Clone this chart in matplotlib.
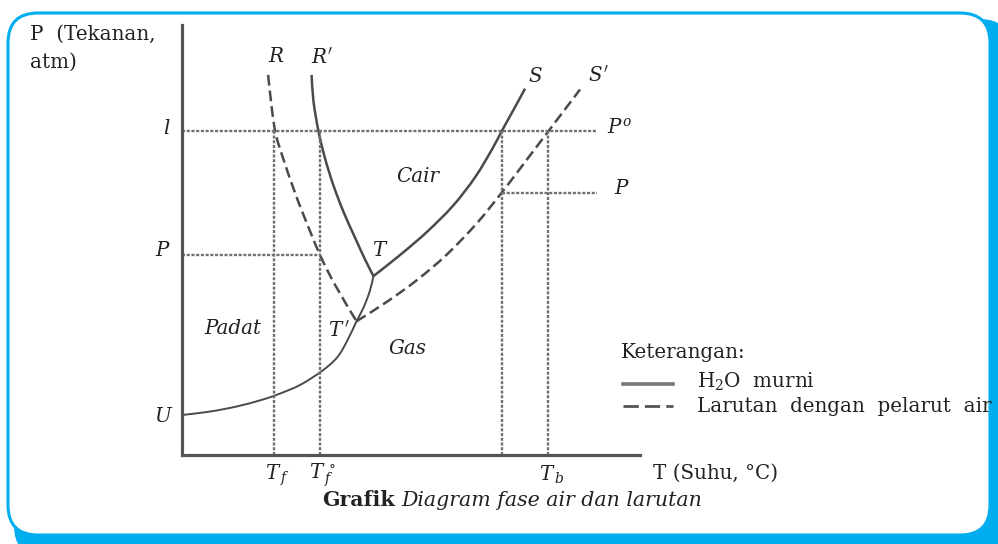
import matplotlib
matplotlib.use("Agg")
import matplotlib.pyplot as plt
import numpy as np
from matplotlib.patches import FancyBboxPatch, PathPatch
from matplotlib.path import Path

plt.rcParams['font.family'] = ['DejaVu Serif']
plt.rcParams['mathtext.fontset'] = 'dejavuserif'

# ---- data (T on 0-100 scale, P on 0-100 scale) ----
p_std = 75.3      # l / P° level
p_left = 46.6     # P (left)
p_right = 60.9    # P (right)
t_f = 20.1
t_f0 = 30.1
t_b0 = 69.8
t_b = 80.0
t_line_end = 90.6

melt_pure_T = [28.3, 28.7, 29.8, 31.2, 33.0, 35.2, 37.8, 40.0, 41.8]
melt_pure_P = [88.4, 82.3, 75.3, 69.1, 62.9, 56.7, 50.5, 45.4, 41.6]

melt_sol_T = [18.8, 19.6, 20.5, 22.3, 24.3, 26.5, 30.1, 33.4, 38.1]
melt_sol_P = [88.4, 80.7, 74.5, 68.3, 62.1, 55.9, 46.6, 39.6, 31.1]

subl_T = [0.0, 6.1, 12.0, 17.0, 20.7, 25.8, 30.5, 33.8, 36.0, 38.1, 39.6, 41.0, 41.8]
subl_P = [9.3, 10.1, 11.3, 12.7, 14.0, 16.3, 19.5, 22.6, 26.4, 31.1, 34.2, 38.1, 41.6]

boil_pure_T = [41.8, 47.6, 53.5, 59.2, 64.0, 67.7, 69.8, 72.5, 74.9]
boil_pure_P = [41.6, 46.5, 51.9, 58.0, 64.6, 71.1, 75.3, 80.5, 85.2]

boil_sol_T = [38.1, 44.7, 51.2, 57.8, 64.3, 69.8, 75.3, 80.0, 86.9]
boil_sol_P = [31.1, 35.6, 40.6, 46.6, 53.8, 61.0, 68.7, 75.3, 85.0]

tick_labels = [r'$T_{\,f}$', r'$T_{\,f}^{\,\circ}$', r'$T_{\,b}$']
tick_pos = [t_f, t_f0, t_b]
legend_labels = [r'H$_2$O  murni', 'Larutan  dengan  pelarut  air']


def smooth_path(xs, ys):
    """Cubic Bezier path passing through the given points (Catmull-Rom)."""
    p = np.column_stack([xs, ys]).astype(float)
    ext = np.vstack([p[0], p, p[-1]])
    verts = [p[0]]
    codes = [Path.MOVETO]
    for i in range(len(p) - 1):
        a, b, c, d = ext[i], ext[i + 1], ext[i + 2], ext[i + 3]
        verts += [b + (c - a) / 6.0, c - (d - b) / 6.0, c]
        codes += [Path.CURVE4] * 3
    return Path(verts, codes)


# ---- figure ----
W, H = 998, 544
fig = plt.figure(figsize=(W / 100, H / 100), dpi=100)
fig.patch.set_facecolor('white')

bg = fig.add_axes([0, 0, 1, 1], zorder=0)
bg.set_xlim(0, W)
bg.set_ylim(H, 0)
bg.axis('off')

cyan = '#00AEEF'
bg.add_patch(FancyBboxPatch((44, 49), 936, 477,
                            boxstyle='round,pad=30,rounding_size=30',
                            facecolor=cyan, edgecolor='none'))
bg.add_patch(FancyBboxPatch((38, 43), 922, 462,
                            boxstyle='round,pad=30,rounding_size=30',
                            facecolor='white', edgecolor=cyan, linewidth=2.2))

ax = fig.add_axes([182 / W, (H - 455) / H, 458 / W, 430 / H], zorder=1)
ax.patch.set_alpha(0)
ax.set_xlim(0, 100)
ax.set_ylim(0, 100)
for s in ['top', 'right']:
    ax.spines[s].set_visible(False)
for s in ['left', 'bottom']:
    ax.spines[s].set_linewidth(2.3)
    ax.spines[s].set_color('#555555')
    ax.spines[s].set_capstyle('projecting')
ax.set_xticks([])
ax.set_yticks([])

line_c = '#4a4a4a'
dot_c = '#707070'
dot_ls = (0, (1.3, 0.7))
dot_lw = 1.7

# dotted guide lines
ax.plot([0, t_line_end], [p_std, p_std], color=dot_c, lw=dot_lw, ls=dot_ls)
ax.plot([0, t_f0], [p_left, p_left], color=dot_c, lw=dot_lw, ls=dot_ls)
ax.plot([t_b0, t_line_end], [p_right, p_right], color=dot_c, lw=dot_lw, ls=dot_ls)
for tv in [t_f, t_f0, t_b0, t_b]:
    ax.plot([tv, tv], [0, p_std], color=dot_c, lw=dot_lw, ls=dot_ls)

# curves
def curve(xs, ys, lw=1.8, ls='-'):
    ax.add_patch(PathPatch(smooth_path(xs, ys), fill=False, edgecolor=line_c,
                           lw=lw, ls=ls, capstyle='butt', joinstyle='round'))

dash = (0, (4.3, 2.0))
curve(melt_pure_T, melt_pure_P)
curve(boil_pure_T, boil_pure_P)
curve(subl_T, subl_P, lw=1.4)
curve(melt_sol_T, melt_sol_P, ls=dash)
curve(boil_sol_T, boil_sol_P, ls=dash)

# ---- text ----
fs = 14.3
tc = '#222222'
def t(x, y, s, **kw):
    d = dict(fontsize=fs, color=tc, ha='center', va='center')
    d.update(kw)
    bg.text(x, y, s, **d)

t(30, 34, 'P  (Tekanan,', ha='left')
t(30, 62, 'atm)', ha='left')
t(276, 56, 'R', style='italic')
t(322, 58, r"$R'$")
t(535, 76, 'S', style='italic')
t(598, 76, r"$S'$")
t(619, 128, r'$P^{o}$')
t(621, 188, 'P', style='italic')
t(166, 128, 'l', style='italic')
t(162, 250, 'P', style='italic')
t(162, 417, 'U', style='italic')
t(418, 177, 'Cair', style='italic')
t(379, 250, 'T', style='italic')
t(339, 331, r"$T\,'$")
t(233, 328, 'Padat', style='italic')
t(408, 348, 'Gas', style='italic')

for lab, tp in zip(tick_labels, tick_pos):
    px = 182 + tp * 4.58
    t(px + 3, 475, lab)
t(653, 473, 'T (Suhu, °C)', ha='left')

t(395, 500, 'Grafik', ha='right', fontweight='bold', fontsize=14.8)
t(401, 500, 'Diagram fase air dan larutan', ha='left', style='italic', fontsize=14.8)

# legend
t(621, 353, 'Keterangan:', ha='left')
bg.plot([623, 673], [384, 384], color='#777777', lw=2.6)
bg.plot([623, 673], [406, 406], color='#555555', lw=2.0, ls=(0, (5.5, 2.2)))
t(697, 382, legend_labels[0], ha='left')
t(697, 407, legend_labels[1], ha='left')

fig.savefig('out.png', dpi=100)
